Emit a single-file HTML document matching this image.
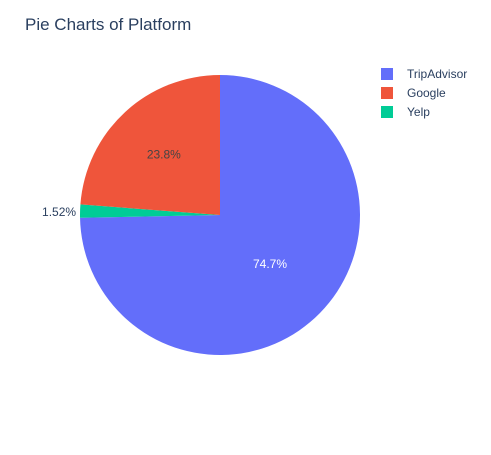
<!DOCTYPE html>
<html><head><meta charset="utf-8"><style>
body{margin:0;background:#fff;font-family:"Liberation Sans",Arial,sans-serif}
svg text{font-family:"Liberation Sans",Arial,sans-serif}
</style></head><body>
<svg id="chart" width="491" height="450">
<text x="25" y="30" font-size="17" fill="#2a3f5f">Pie Charts of Platform</text>
<g id="slices"></g>
<g id="legend"></g>
</svg>
<script>
const labels=["TripAdvisor","Yelp","Google"];
const values=[74.7,1.52,23.8];
const colors=["#636efa","#00cc96","#EF553B"];
const legendOrder=["TripAdvisor","Google","Yelp"];
const cx=220,cy=215,r=140;
const ns="http://www.w3.org/2000/svg";
const total=values.reduce((a,b)=>a+b,0);
const g=document.getElementById('slices');
let a0=0;
function pt(a,rr){return [cx+rr*Math.sin(a),cy-rr*Math.cos(a)];}
values.forEach((v,i)=>{
  const a1=a0+v/total*2*Math.PI;
  const p0=pt(a0,r),p1=pt(a1,r);
  const large=(a1-a0)>Math.PI?1:0;
  const p=document.createElementNS(ns,'path');
  p.setAttribute('d',`M${cx},${cy}L${p0[0]},${p0[1]}A${r},${r} 0 ${large} 1 ${p1[0]},${p1[1]}Z`);
  p.setAttribute('fill',colors[i]);
  
  
  g.appendChild(p);
  const am=(a0+a1)/2;
  const pct=v/total*100;
  const txt=pct<10?pct.toFixed(2)+'%':pct.toFixed(1)+'%';
  const t=document.createElementNS(ns,'text');
  let lp;
  if(pct<5){lp=pt(am,r+4);t.setAttribute('text-anchor','end');t.setAttribute('fill','#2a3f5f');lp[1]+=1;}
  else{lp=pt(am,pct>50?r*0.5:r*0.59);t.setAttribute('text-anchor','middle');t.setAttribute('fill',pct>50?'#fff':'#444');}
  t.setAttribute('x',lp[0]);t.setAttribute('y',lp[1]+4);t.setAttribute('font-size','12');
  t.textContent=txt;
  
  
  g.appendChild(t);
  a0=a1;
});
const lg=document.getElementById('legend');
legendOrder.forEach((l,j)=>{
  const i=labels.indexOf(l);
  const y=74+j*19;
  const rc=document.createElementNS(ns,'rect');
  rc.setAttribute('x',381);rc.setAttribute('y',y-6);rc.setAttribute('width',12);rc.setAttribute('height',12);
  rc.setAttribute('fill',colors[i]);
  
  
  lg.appendChild(rc);
  const t=document.createElementNS(ns,'text');
  t.setAttribute('x',407);t.setAttribute('y',y+4);t.setAttribute('font-size','12');t.setAttribute('fill','#2a3f5f');
  t.textContent=l;
  
  
  lg.appendChild(t);
});
</script>
</body></html>
